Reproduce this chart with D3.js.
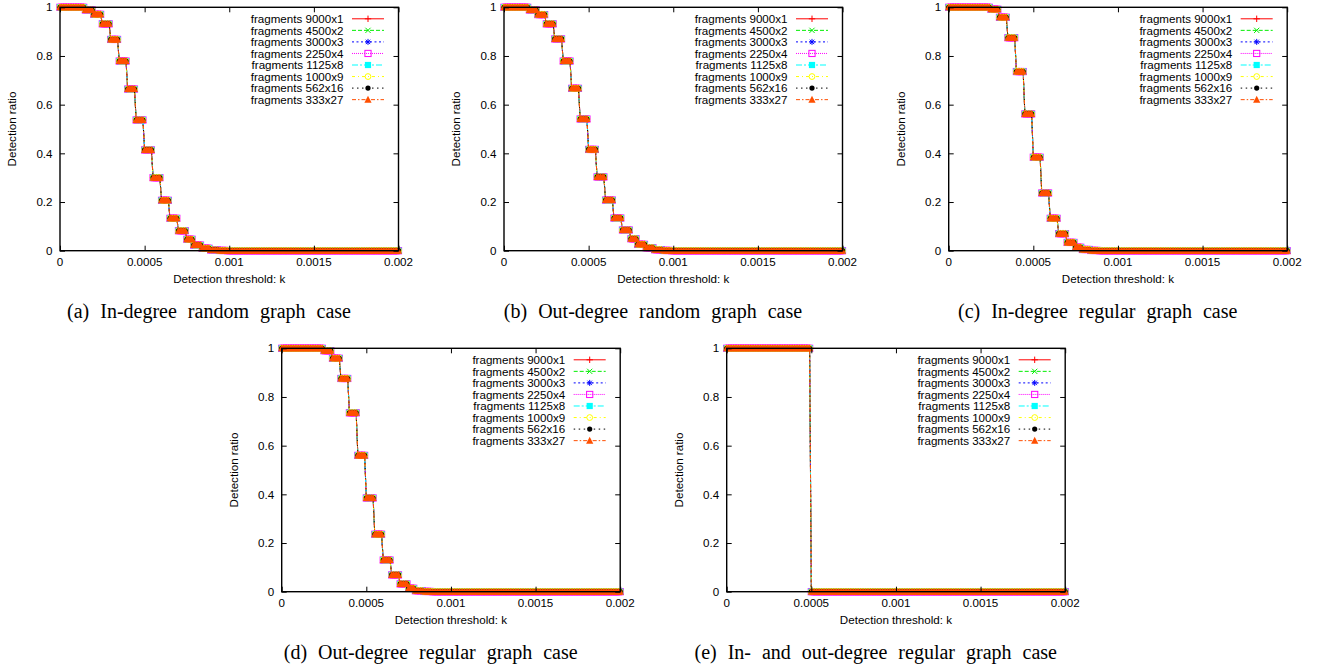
<!DOCTYPE html>
<html>
<head>
<meta charset="utf-8">
<script src="https://cdn.jsdelivr.net/npm/d3@7"></script>
<style>
  body { margin: 0; background: #fff; }
  svg text { font-family: 'Liberation Sans', Arial, sans-serif; font-size: 11.6px; fill: #000; }
  svg text.caption { font-family: 'Liberation Serif', 'Times New Roman', serif; font-size: 20px; word-spacing: 6px; }
</style>
</head>
<body>
<svg id="fig" width="1318" height="666"></svg>
<script>
const seriesNames = [
  'fragments 9000x1', 'fragments 4500x2', 'fragments 3000x3', 'fragments 2250x4',
  'fragments 1125x8', 'fragments 1000x9', 'fragments 562x16', 'fragments 333x27'
];

const xTicks = [0, 0.0005, 0.001, 0.0015, 0.002];
const xTickLabels = ['0', '0.0005', '0.001', '0.0015', '0.002'];
const yTicks = [0, 0.2, 0.4, 0.6, 0.8, 1];
const yTickLabels = ['0', '0.2', '0.4', '0.6', '0.8', '1'];

// thresholds k where the ratio steps down, and the ratio right after each step
const dropsRandom = [0.000148, 0.000198, 0.000247, 0.000296, 0.000346, 0.000395, 0.000444, 0.000494, 0.000543,
  0.000593, 0.000642, 0.000691, 0.000741, 0.00079, 0.000839, 0.000889, 0.000938, 0.000988];
const ratiosA = [0.989, 0.971, 0.932, 0.868, 0.779, 0.664, 0.537, 0.414, 0.300,
  0.207, 0.133, 0.082, 0.047, 0.023, 0.010, 0.003, 0.001, 0];
const ratiosB = [0.989, 0.970, 0.932, 0.870, 0.779, 0.667, 0.541, 0.416, 0.303,
  0.208, 0.134, 0.085, 0.049, 0.026, 0.012, 0.004, 0.001, 0];

const dropsRegular = [0.000247, 0.000296, 0.000346, 0.000395, 0.000444, 0.000494, 0.000543,
  0.000593, 0.000642, 0.000691, 0.000741, 0.00079, 0.000839, 0.000889];
const ratiosC = [0.992, 0.959, 0.875, 0.736, 0.562, 0.384, 0.237, 0.133, 0.070, 0.034, 0.014, 0.005, 0.001, 0];
const ratiosD = [0.990, 0.959, 0.876, 0.735, 0.560, 0.385, 0.236, 0.130, 0.069, 0.032, 0.014, 0.004, 0.001, 0];

const dropsBoth = [0.000494];
const ratiosE = [0];

// k values the simulation was evaluated at
const kSamples = d3.range(0, 201).map((i) => i * 0.00001);

const captions = [
  '(a) In-degree random graph case',
  '(b) Out-degree random graph case',
  '(c) In-degree regular graph case',
  '(d) Out-degree regular graph case',
  '(e) In- and out-degree regular graph case'
];

const colors = ['#ff0000', '#00ee00', '#0000ff', '#ff00ff', '#00ffff', '#ffff00', '#000000', '#ff4f00'];
const dashes = ['none', '4,2', '2,2.5', '1,1', '6,2,2,2', '3,3,1,3', '1.5,3.5', '4,2,1.5,2'];

const W = 338.5;
const H = 243.4;
const layout = [
  { left: 60, top: 7.3 },
  { left: 504, top: 7.3 },
  { left: 948.7, top: 7.3 },
  { left: 281.7, top: 348.3 },
  { left: 726.7, top: 348.3 }
];
const panelData = [
  { drops: dropsRandom, ratios: ratiosA },
  { drops: dropsRandom, ratios: ratiosB },
  { drops: dropsRegular, ratios: ratiosC },
  { drops: dropsRegular, ratios: ratiosD },
  { drops: dropsBoth, ratios: ratiosE }
];

const ratioAt = (drops, ratios, k) => {
  let v = 1;
  drops.forEach((d, i) => { if (k >= d - 1e-9) v = ratios[i]; });
  return v;
};

// gnuplot-like point types
const marker = (sel, i, color) => {
  if (i === 0) {
    sel.append('path').attr('d', 'M-3.2,0H3.2M0,-3.2V3.2').attr('stroke', color).attr('fill', 'none');
  } else if (i === 1) {
    sel.append('path').attr('d', 'M-2.6,-2.6L2.6,2.6M-2.6,2.6L2.6,-2.6').attr('stroke', color).attr('fill', 'none');
  } else if (i === 2) {
    sel.append('path').attr('d', 'M-3,0H3M0,-3V3M-2.2,-2.2L2.2,2.2M-2.2,2.2L2.2,-2.2').attr('stroke', color).attr('fill', 'none');
  } else if (i === 3) {
    sel.append('rect').attr('x', -3.1).attr('y', -3.1).attr('width', 6.2).attr('height', 6.2)
      .attr('stroke', color).attr('fill', 'none');
  } else if (i === 4) {
    sel.append('rect').attr('x', -3.1).attr('y', -3.1).attr('width', 6.2).attr('height', 6.2).attr('fill', color);
  } else if (i === 5) {
    sel.append('circle').attr('r', 2.9).attr('stroke', color).attr('fill', 'none');
  } else if (i === 6) {
    sel.append('circle').attr('r', 2.6).attr('fill', color);
  } else {
    sel.append('path').attr('d', 'M0,-3.8L3.6,3L-3.6,3Z').attr('fill', color);
  }
};

const svg = d3.select('#fig');

const x = d3.scaleLinear().domain([0, 0.002]).range([0, W]);
const y = d3.scaleLinear().domain([0, 1]).range([H, 0]);

panelData.forEach((p, pi) => {
  const pos = layout[pi];
  const chart = svg.append('g')
    .attr('transform', `translate(${pos.left}, ${pos.top})`);

  const points = kSamples.map((k) => ({ k: k, r: ratioAt(p.drops, p.ratios, k) }));

  const line = d3.line()
    .x((d) => x(d.k))
    .y((d) => y(d.r));

  seriesNames.forEach((name, si) => {
    chart.append('path')
      .datum(points)
      .attr('d', line)
      .attr('fill', 'none')
      .attr('stroke', colors[si])
      .attr('stroke-width', 1)
      .attr('stroke-dasharray', dashes[si]);

    chart.append('g')
      .selectAll('g')
      .data(points)
      .enter()
      .append('g')
      .attr('transform', (d) => `translate(${x(d.k)}, ${y(d.r)})`)
      .each(function () { marker(d3.select(this), si, colors[si]); });
  });

  // frame with inward ticks on all sides
  chart.append('g')
    .attr('transform', `translate(0, ${H})`)
    .call(d3.axisBottom(x).tickValues(xTicks).tickSize(-5).tickFormat(''))
    .call((g) => g.select('.domain').remove());
  chart.append('g')
    .call(d3.axisTop(x).tickValues(xTicks).tickSize(-5).tickFormat(''))
    .call((g) => g.select('.domain').remove());
  chart.append('g')
    .call(d3.axisLeft(y).tickValues(yTicks).tickSize(-5).tickFormat(''))
    .call((g) => g.select('.domain').remove());
  chart.append('g')
    .attr('transform', `translate(${W}, 0)`)
    .call(d3.axisRight(y).tickValues(yTicks).tickSize(-5).tickFormat(''))
    .call((g) => g.select('.domain').remove());

  chart.selectAll('.tick line').attr('stroke', '#000');

  chart.append('rect')
    .attr('width', W)
    .attr('height', H)
    .attr('fill', 'none')
    .attr('stroke', '#000')
    .attr('stroke-width', 1.4);

  chart.selectAll('.xlab')
    .data(xTicks)
    .enter()
    .append('text')
    .attr('x', (d) => x(d))
    .attr('y', H + 15.8)
    .attr('text-anchor', 'middle')
    .text((d, i) => xTickLabels[i]);

  chart.selectAll('.ylab')
    .data(yTicks)
    .enter()
    .append('text')
    .attr('x', -7.5)
    .attr('y', (d) => y(d))
    .attr('dy', '0.36em')
    .attr('text-anchor', 'end')
    .text((d, i) => yTickLabels[i]);

  chart.append('text')
    .attr('x', W / 2)
    .attr('y', H + 32.8)
    .attr('text-anchor', 'middle')
    .text('Detection threshold: k');

  chart.append('text')
    .attr('transform', `translate(-48, ${H / 2}) rotate(-90)`)
    .attr('dy', '0.36em')
    .attr('text-anchor', 'middle')
    .text('Detection ratio');

  // legend
  const legend = chart.append('g');
  seriesNames.forEach((name, si) => {
    const ly = 11.5 + si * 11.55;
    legend.append('text')
      .attr('x', W - 55)
      .attr('y', ly)
      .attr('dy', '0.36em')
      .attr('text-anchor', 'end')
      .text(name);
    legend.append('line')
      .attr('x1', W - 46.5)
      .attr('x2', W - 14.5)
      .attr('y1', ly)
      .attr('y2', ly)
      .attr('stroke', colors[si])
      .attr('stroke-dasharray', dashes[si]);
    const m = legend.append('g').attr('transform', `translate(${W - 30.5}, ${ly})`);
    marker(m, si, colors[si]);
  });

  chart.append('text')
    .attr('class', 'caption')
    .attr('x', 149)
    .attr('y', H + 67)
    .attr('text-anchor', 'middle')
    .text(captions[pi]);
});
</script>
</body>
</html>
